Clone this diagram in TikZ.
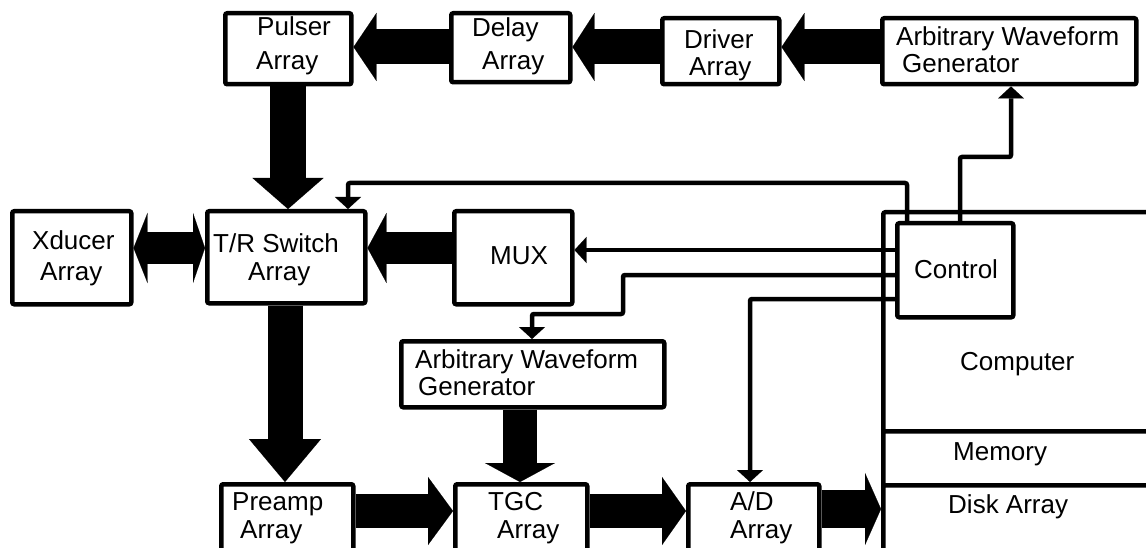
\documentclass[tikz,border=0pt]{standalone}
\usepackage{fontspec}
\setmainfont{Liberation Sans}
\usetikzlibrary{arrows.meta}
\tikzset{
  box/.style={draw, line width=4.5pt, rounded corners=2pt, fill=white, inner sep=0pt, anchor=north west},
  lbl/.style={anchor=base west, inner sep=0pt, font=\fontsize{26}{26}\selectfont},
  wire/.style={line width=4.5pt, rounded corners=2pt, -{Triangle[width=26pt,length=12pt,line width=0.1pt]}},
}
\begin{document}
\begin{tikzpicture}[x=1pt,y=-1pt]
\useasboundingbox (0,0) rectangle (1146,548);
% boxes
\node[box, minimum width=126pt, minimum height=71pt] (Pulser) at (223,11) {};
\node[box, minimum width=119pt, minimum height=69pt] (Delay) at (449,11) {};
\node[box, minimum width=117pt, minimum height=66pt] (Driver) at (660,16) {};
\node[box, minimum width=254pt, minimum height=66pt] (AWGt) at (880,16) {};
\node[box, minimum width=119pt, minimum height=93pt] (Xducer) at (10,209) {};
\node[box, minimum width=158pt, minimum height=92pt] (TR) at (205,209) {};
\node[box, minimum width=118pt, minimum height=93pt] (MUX) at (452,209) {};
\node[box, minimum width=300pt, minimum height=370pt] (Computer) at (881,210) {};
\node[box, minimum width=300pt, minimum height=54pt] (Memory) at (881,429) {};
\node[box, minimum width=300pt, minimum height=97pt] (Disk) at (881,483) {};
\node[box, minimum width=116pt, minimum height=94pt] (Control) at (895,221) {};
\node[box, minimum width=263pt, minimum height=66pt] (AWGb) at (399,339) {};
\node[box, minimum width=132pt, minimum height=98pt] (Preamp) at (219,482) {};
\node[box, minimum width=132pt, minimum height=98pt] (TGC) at (453,482) {};
\node[box, minimum width=131pt, minimum height=98pt] (AD) at (686,482) {};
% labels
\node[lbl] (tPul1) at (257,36) {Pulser};
\node[lbl] (tPul2) at (256,70) {Array};
\node[lbl] (tDel1) at (472,37) {Delay};
\node[lbl] (tDel2) at (482,70) {Array};
\node[lbl] (tDrv1) at (684,49) {Driver};
\node[lbl] (tDrv2) at (689,76) {Array};
\node[lbl] (tAWt1) at (896,46) {Arbitrary Waveform};
\node[lbl] (tAWt2) at (902,73) {Generator};
\node[lbl] (tXd1) at (32,250) {Xducer};
\node[lbl] (tXd2) at (40,280) {Array};
\node[lbl] (tTR1) at (213,253) {T/R Switch};
\node[lbl] (tTR2) at (248,280) {Array};
\node[lbl] (tMUX) at (490,265) {MUX};
\node[lbl] (tCtl) at (914,278) {Control};
\node[lbl] (tCmp) at (960,370) {Computer};
\node[lbl] (tMem) at (953,460) {Memory};
\node[lbl] (tDsk) at (948,513) {Disk Array};
\node[lbl] (tAWb1) at (415,368) {Arbitrary Waveform};
\node[lbl] (tAWb2) at (418,395) {Generator};
\node[lbl] (tPre1) at (232,510) {Preamp};
\node[lbl] (tPre2) at (240,538) {Array};
\node[lbl] (tTGC1) at (488,510) {TGC};
\node[lbl] (tTGC2) at (497,538) {Array};
\node[lbl] (tAD1) at (730,510) {A/D};
\node[lbl] (tAD2) at (730,538) {Array};
% fat arrows
\draw[line width=35pt, -{Triangle[width=68pt,length=23pt,line width=0.1pt]}] (AWGt.west |- 0,47) -- (Driver.east |- 0,47);
\draw[line width=35pt, -{Triangle[width=68pt,length=22pt,line width=0.1pt]}] (Driver.west |- 0,47) -- (Delay.east |- 0,47);
\draw[line width=35pt, -{Triangle[width=68pt,length=23pt,line width=0.1pt]}] (Delay.west |- 0,47) -- (Pulser.east |- 0,47);
\draw[line width=36pt, -{Triangle[width=71pt,length=31pt,line width=0.1pt]}] (288,0 |- Pulser.south) -- (288,0 |- TR.north);
\draw[line width=31pt, {Triangle[width=70pt,length=14pt,line width=0.1pt]}-{Triangle[width=70pt,length=12pt,line width=0.1pt]}] (Xducer.east |- 0,248) -- (TR.west |- 0,248);
\draw[line width=31pt, -{Triangle[width=70pt,length=19pt,line width=0.1pt]}] (MUX.west |- 0,248) -- (TR.east |- 0,248);
\draw[line width=35pt, -{Triangle[width=72pt,length=43pt,line width=0.1pt]}] (285,0 |- TR.south) -- (285,0 |- Preamp.north);
\draw[line width=34pt, -{Triangle[width=70pt,length=19pt,line width=0.1pt]}] (520,0 |- AWGb.south) -- (520,0 |- TGC.north);
\draw[line width=34pt, -{Triangle[width=68pt,length=25pt,line width=0.1pt]}] (Preamp.east |- 0,511) -- (TGC.west |- 0,511);
\draw[line width=34pt, -{Triangle[width=68pt,length=24pt,line width=0.1pt]}] (TGC.east |- 0,511) -- (AD.west |- 0,511);
\draw[line width=38pt, -{Triangle[width=72pt,length=16pt,line width=0.1pt]}] (AD.east |- 0,509) -- (Disk.west |- 0,509);
% control wires
\draw[wire] (907,0 |- Control.north) |- (348,183) -- (348,0 |- TR.north);
\draw[wire] (960,0 |- Control.north) |- (1011,157) -- (1011,0 |- AWGt.south);
\draw[wire] (Control.west |- 0,250) -- (MUX.east |- 0,250);
\draw[wire] (Control.west |- 0,275) -| (623,314) -| (532,0 |- AWGb.north);
\draw[wire] (Control.west |- 0,299) -| (750,0 |- AD.north);
\end{tikzpicture}
\end{document}
